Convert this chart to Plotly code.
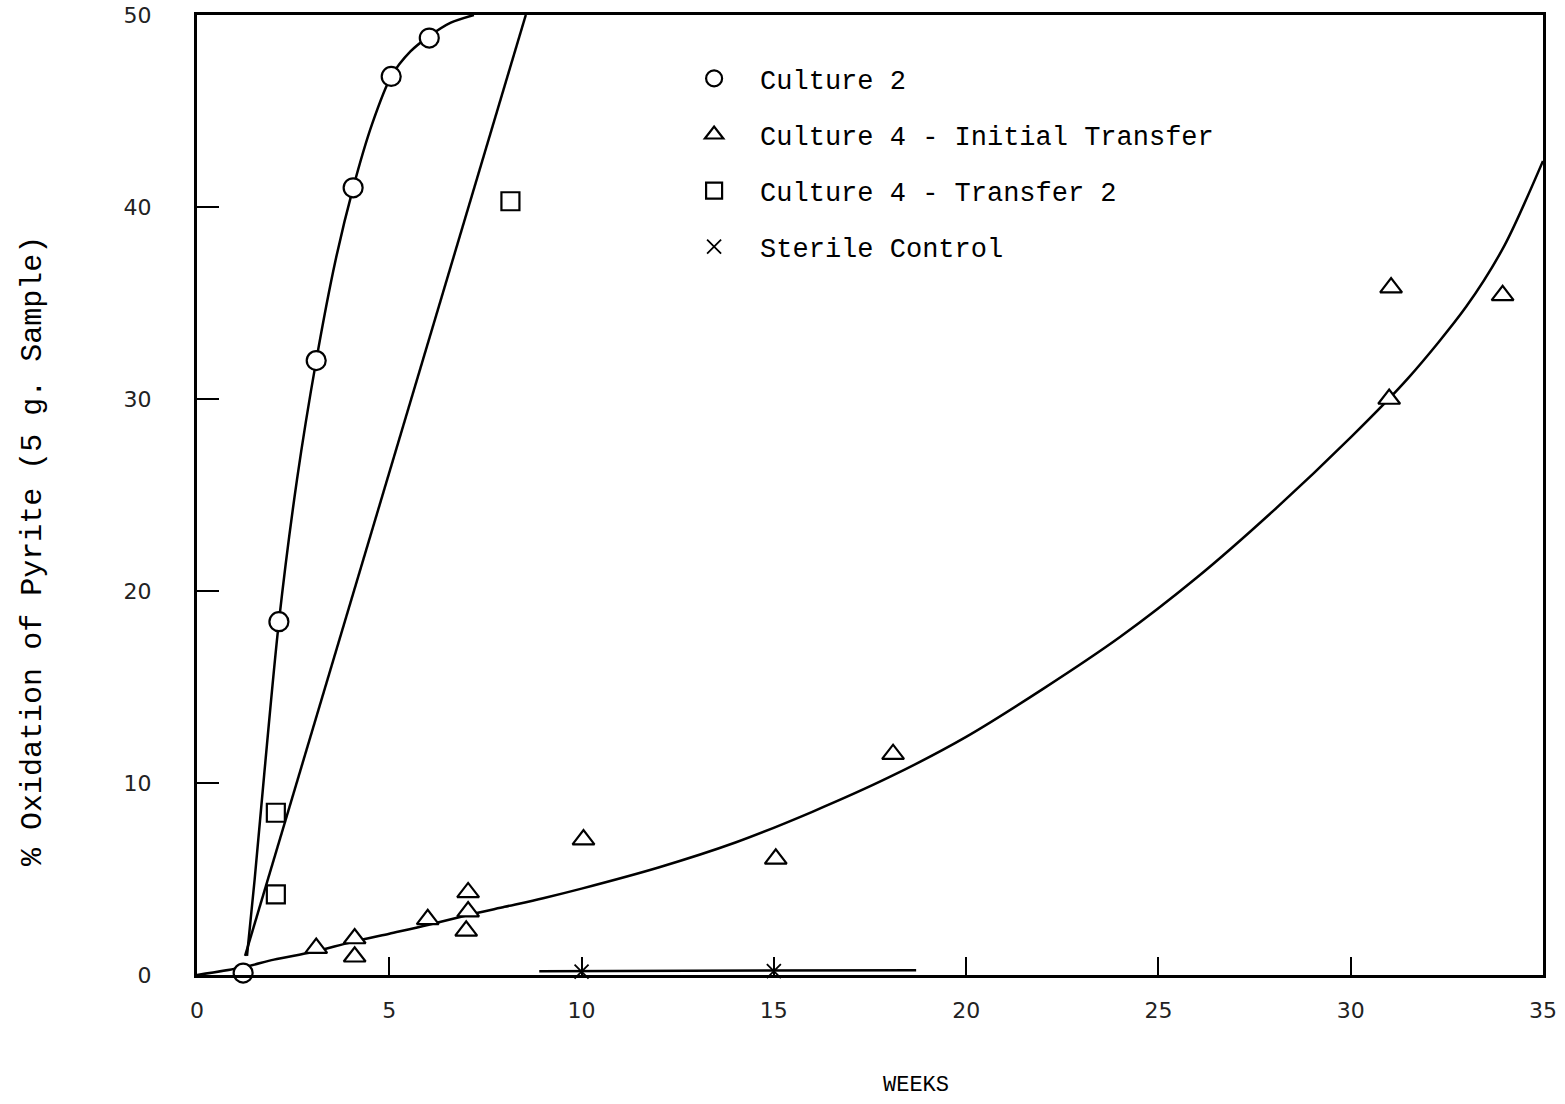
import plotly.graph_objects as go

# ---- data ----
c2_weeks = [1.2, 2.13, 3.1, 4.06, 5.05, 6.04]
c2_pct = [0.1, 18.4, 32.0, 41.0, 46.8, 48.8]

c4i_weeks = [3.1, 4.1, 4.1, 6.0, 7.05, 7.05, 7.0, 10.05, 15.05, 18.1, 31.05, 31.0, 33.95]
c4i_pct = [1.4, 1.9, 0.95, 2.9, 4.3, 3.3, 2.3, 7.05, 6.05, 11.5, 35.8, 30.0, 35.4]

c4t2_weeks = [2.05, 2.05, 8.15]
c4t2_pct = [8.45, 4.2, 40.3]

sterile_weeks = [10.0, 15.0]
sterile_pct = [0.18, 0.2]

# hand-drawn fitted curves
c2_curve_x = [1.3, 1.5, 1.75, 2.13, 2.6, 3.1, 3.6, 4.06, 4.55, 5.05, 5.55, 6.04, 6.6, 7.2]
c2_curve_y = [1.0, 5.0, 10.5, 18.4, 25.8, 32.0, 37.2, 41.0, 44.3, 46.8, 48.1, 48.9, 49.6, 50.0]

t2_line_x = [1.25, 8.55]
t2_line_y = [1.0, 50.0]

c4i_curve_x = [0, 1.2, 2, 3, 4, 5, 6, 7, 8, 9, 10, 12, 14, 16, 18, 20, 22, 24, 26, 28, 30, 31.5, 33, 34, 35]
c4i_curve_y = [0, 0.4, 0.8, 1.2, 1.7, 2.15, 2.6, 3.1, 3.55, 4.0, 4.5, 5.6, 6.9, 8.5, 10.3, 12.4, 14.9,
               17.6, 20.7, 24.2, 28.0, 31.1, 34.8, 38.0, 42.4]

sterile_line_x = [8.9, 18.7]
sterile_line_y = [0.2, 0.25]

x_ticks = [0, 5, 10, 15, 20, 25, 30, 35]
y_ticks = [0, 10, 20, 30, 40, 50]

FONT = "Liberation Mono"
TICKFONT = "DejaVu Sans"
BLACK = "black"

fig = go.Figure()

for xs, ys, shape in [(c2_curve_x, c2_curve_y, "spline"),
                      (t2_line_x, t2_line_y, "linear"),
                      (c4i_curve_x, c4i_curve_y, "spline"),
                      (sterile_line_x, sterile_line_y, "linear")]:
    fig.add_trace(go.Scatter(x=xs, y=ys, mode="lines",
                             line=dict(color=BLACK, width=2.5, shape=shape, smoothing=0.8),
                             showlegend=False, hoverinfo="skip", cliponaxis=True))

fig.add_trace(go.Scatter(x=c2_weeks, y=c2_pct, mode="markers", name="Culture 2",
                         marker=dict(symbol="circle", color="white", size=19,
                                     line=dict(color=BLACK, width=2.2)),
                         legendgroup="a", cliponaxis=False))
fig.add_trace(go.Scatter(x=c4i_weeks, y=c4i_pct, mode="markers", name="Culture 4 - Initial Transfer",
                         marker=dict(symbol="triangle-up", color="white", size=19,
                                     line=dict(color=BLACK, width=2.2)),
                         legendgroup="b", cliponaxis=False))
fig.add_trace(go.Scatter(x=c4t2_weeks, y=c4t2_pct, mode="markers", name="Culture 4 - Transfer 2",
                         marker=dict(symbol="square", color="white", size=18,
                                     line=dict(color=BLACK, width=2.2)),
                         legendgroup="c", cliponaxis=False))
fig.add_trace(go.Scatter(x=sterile_weeks, y=sterile_pct, mode="markers", name="Sterile Control",
                         marker=dict(symbol="x-thin-open", color=BLACK, size=14,
                                     line=dict(color=BLACK, width=1.8)),
                         legendgroup="d", cliponaxis=False))

axis_common = dict(showgrid=False, zeroline=False, showline=True, linecolor=BLACK, linewidth=3,
                   mirror=True, ticks="inside", tickcolor=BLACK, tickwidth=2, automargin=False,
                   tickfont=dict(family=TICKFONT, size=22, color="#222"))

fig.update_layout(
    width=1565, height=1104,
    margin=dict(l=197, r=22, t=15, b=129),
    paper_bgcolor="white", plot_bgcolor="white",
    xaxis=dict(range=[0, 35], tickvals=x_ticks, ticklen=18, ticklabelstandoff=14, **axis_common),
    yaxis=dict(range=[0, 50], tickvals=y_ticks, ticklen=22, ticklabelstandoff=38, **axis_common),
    legend=dict(x=0.35, y=0.959, xanchor="left", yanchor="top", bgcolor="rgba(0,0,0,0)",
                font=dict(family=FONT, size=27, color=BLACK), tracegroupgap=18, itemsizing="trace",
                itemwidth=82),
    showlegend=True,
    annotations=[
        dict(text="WEEKS", xref="paper", yref="paper", x=(916 - 197) / (1543 - 197), y=-0.1,
             showarrow=False, font=dict(family=FONT, size=22, color=BLACK), xanchor="center", yanchor="top"),
        dict(text="% Oxidation of Pyrite (5 g. Sample)", xref="paper", yref="paper",
             x=-0.122, y=(973 - 550) / (973 - 15), textangle=-90, showarrow=False,
             font=dict(family=FONT, size=30, color=BLACK), xanchor="center", yanchor="middle"),
    ],
)

fig.write_html("out.html")
